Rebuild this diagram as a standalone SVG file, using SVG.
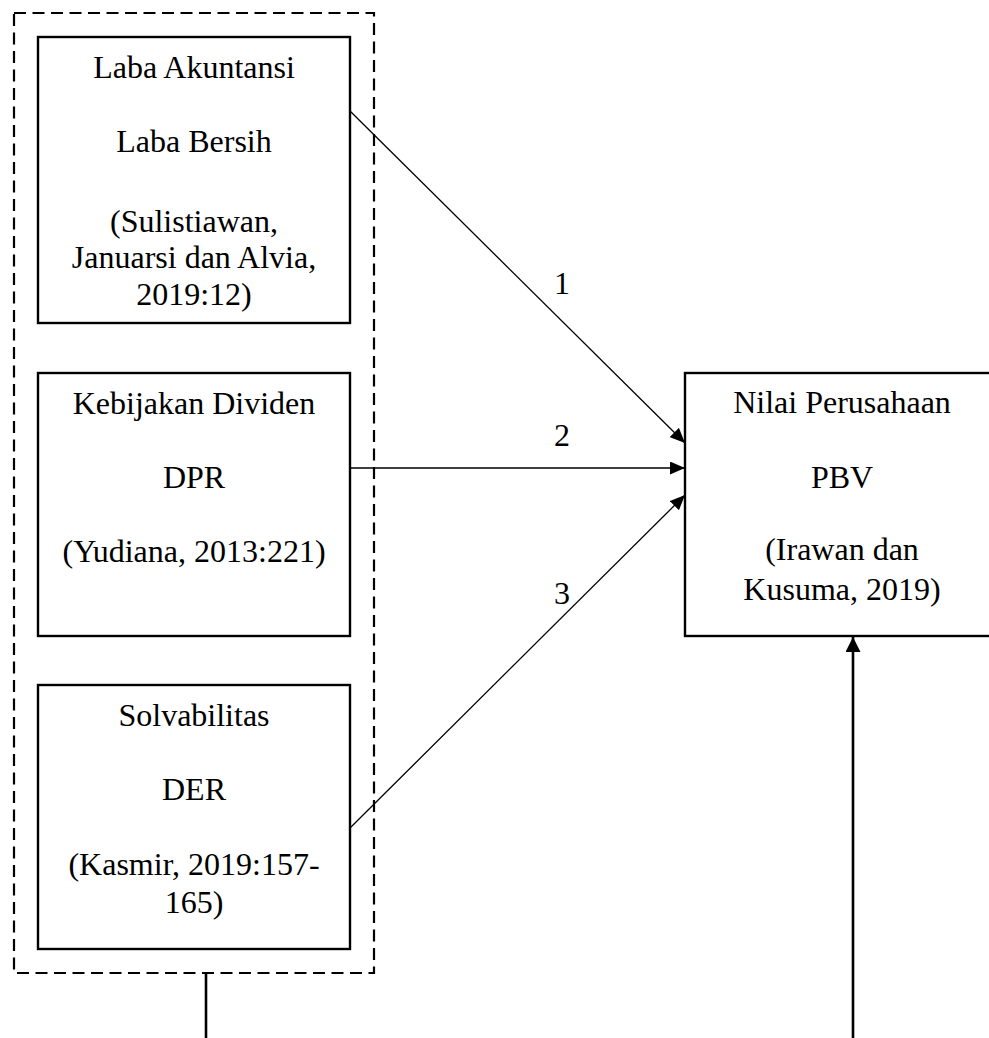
<svg xmlns="http://www.w3.org/2000/svg" width="989" height="1038" viewBox="0 0 989 1038">
<style>
.box{fill:#fff;stroke:#000;stroke-width:2.4}
.dash{fill:none;stroke:#000;stroke-width:2.2;stroke-dasharray:12 6.5}
.t{font-family:"Liberation Serif","Times New Roman",serif;font-size:32px;fill:#000;text-anchor:middle}
.thin{stroke:#000;stroke-width:1.3;fill:none}
.thick{stroke:#000;stroke-width:2.6;fill:none}
</style>
<defs>
<marker id="ah" viewBox="0 0 15 13" refX="15" refY="6.5" markerWidth="15" markerHeight="13" markerUnits="userSpaceOnUse" orient="auto">
<path d="M0,0 L15,6.5 L0,13 Z" fill="#000"/>
</marker>
<marker id="ahb" viewBox="0 0 15 15" refX="15" refY="7.5" markerWidth="15" markerHeight="15" markerUnits="userSpaceOnUse" orient="auto">
<path d="M0,0 L15,7.5 L0,15 Z" fill="#000"/>
</marker>
</defs>
<rect width="989" height="1038" fill="#fff"/>
<g id="group-independent">
<rect class="dash" x="14" y="13" width="360" height="960"/>
</g>
<g id="node-laba">
<rect class="box" x="38" y="37" width="312" height="286"/>
<text class="t" x="194" y="78">Laba Akuntansi</text>
<text class="t" x="194" y="152">Laba Bersih</text>
<text class="t" x="194" y="232">(Sulistiawan,</text>
<text class="t" x="194" y="268">Januarsi dan Alvia,</text>
<text class="t" x="194" y="305">2019:12)</text>
</g>
<g id="node-dividen">
<rect class="box" x="38" y="373" width="312" height="263"/>
<text class="t" x="194" y="414">Kebijakan Dividen</text>
<text class="t" x="194" y="488">DPR</text>
<text class="t" x="194" y="562">(Yudiana, 2013:221)</text>
</g>
<g id="node-solvabilitas">
<rect class="box" x="38" y="685" width="312" height="264"/>
<text class="t" x="194" y="726">Solvabilitas</text>
<text class="t" x="194" y="800">DER</text>
<text class="t" x="194" y="875">(Kasmir, 2019:157-</text>
<text class="t" x="194" y="913">165)</text>
</g>
<g id="node-nilai">
<rect class="box" x="685" y="373" width="330" height="263"/>
<text class="t" x="842" y="413">Nilai Perusahaan</text>
<text class="t" x="842" y="488">PBV</text>
<text class="t" x="842" y="560">(Irawan dan</text>
<text class="t" x="842" y="600">Kusuma, 2019)</text>
</g>
<g id="connectors">
<line class="thin" x1="350" y1="111" x2="685" y2="443" marker-end="url(#ah)"/>
<line class="thin" x1="350" y1="468" x2="685" y2="468" marker-end="url(#ah)"/>
<line class="thin" x1="350" y1="828" x2="685" y2="495" marker-end="url(#ah)"/>
<line class="thick" x1="206" y1="973" x2="206" y2="1038"/>
<line class="thick" x1="853" y1="1038" x2="853" y2="637" marker-end="url(#ahb)"/>
<text class="t" x="562" y="294">1</text>
<text class="t" x="562" y="446">2</text>
<text class="t" x="562" y="604">3</text>
</g>
</svg>
